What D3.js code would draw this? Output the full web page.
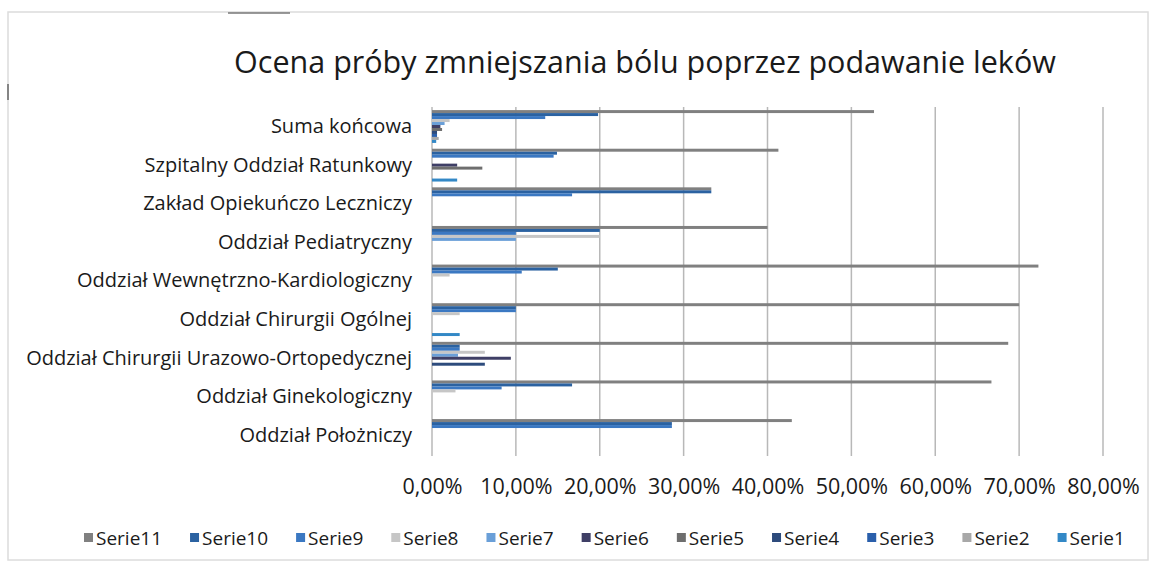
<!DOCTYPE html>
<html>
<head>
    <meta charset="utf-8">
    <style>
        html, body {
            margin: 0;
            background-color: white;
        }
        text {
            font-family: 'Open Sans', 'Noto Sans', sans-serif;
            fill: #1a1a1a;
        }
        .grid line {
            stroke: #b8b8b8;
            stroke-width: 1.5px;
        }
    </style>
</head>
<body>

    <svg id="chart" width="1156" height="566"></svg>

    <script src="https://d3js.org/d3.v7.min.js"></script>

    <script>
        // categories, top to bottom as drawn
        var categories = [
            "Suma końcowa",
            "Szpitalny Oddział Ratunkowy",
            "Zakład Opiekuńczo Leczniczy",
            "Oddział Pediatryczny",
            "Oddział Wewnętrzno-Kardiologiczny",
            "Oddział Chirurgii Ogólnej",
            "Oddział Chirurgii Urazowo-Ortopedycznej",
            "Oddział Ginekologiczny",
            "Oddział Położniczy"
        ];

        var seriesNames = ["Serie11", "Serie10", "Serie9", "Serie8", "Serie7", "Serie6",
                           "Serie5", "Serie4", "Serie3", "Serie2", "Serie1"];

        var serie11 = [0.527, 0.413, 0.333, 0.400, 0.723, 0.700, 0.687, 0.667, 0.429];
        var serie10 = [0.198, 0.149, 0.333, 0.200, 0.150, 0.100, 0.033, 0.167, 0.286];
        var serie9  = [0.135, 0.145, 0.167, 0.100, 0.107, 0.100, 0.033, 0.083, 0.286];
        var serie8  = [0.021, 0, 0, 0.200, 0.021, 0.033, 0.063, 0.028, 0];
        var serie7  = [0.015, 0, 0, 0.100, 0, 0, 0.031, 0, 0];
        var serie6  = [0.010, 0.030, 0, 0, 0, 0, 0.094, 0, 0];
        var serie5  = [0.012, 0.060, 0, 0, 0, 0, 0, 0, 0];
        var serie4  = [0.006, 0, 0, 0, 0, 0, 0.063, 0, 0];
        var serie3  = [0.006, 0, 0, 0, 0, 0, 0, 0, 0];
        var serie2  = [0.008, 0, 0, 0, 0, 0, 0, 0, 0];
        var serie1  = [0.005, 0.030, 0, 0, 0, 0.033, 0, 0, 0];

        var xTicks = [0, 0.1, 0.2, 0.3, 0.4, 0.5, 0.6, 0.7, 0.8];

        var seriesValues = [serie11, serie10, serie9, serie8, serie7, serie6,
                            serie5, serie4, serie3, serie2, serie1];

        var colors = ["#808080", "#2b62a1", "#3b78c2", "#c6c6c6", "#6a9fd8", "#3f3f66",
                      "#6e6e6e", "#2d4b7c", "#2a5fab", "#a8a8a8", "#3388c6"];

        var svg = d3.select("svg"),
            width = +svg.attr("width"),
            height = +svg.attr("height");

        var plLocale = d3.formatLocale({decimal: ",", thousands: " ", grouping: [3], currency: ["", " zł"]});
        var pct = plLocale.format(".2%");

        // frame of the scanned chart
        svg.append("rect")
            .attr("x", 8).attr("y", 12)
            .attr("width", 1140).attr("height", 548)
            .attr("fill", "none")
            .attr("stroke", "#dcdcdc")
            .attr("stroke-width", 1.5);
        svg.append("line")
            .attr("x1", 228).attr("x2", 290).attr("y1", 13).attr("y2", 13)
            .attr("stroke", "#777").attr("stroke-width", 1.5);
        svg.append("line")
            .attr("x1", 8).attr("x2", 8).attr("y1", 84).attr("y2", 100)
            .attr("stroke", "#666").attr("stroke-width", 1.5);

        var x = d3.scaleLinear()
            .domain([0, 0.8])
            .range([432, 1103]);

        var y0 = d3.scaleBand()
            .domain(categories)
            .range([107, 455])
            .paddingInner(0.15)
            .paddingOuter(0.08);

        var y1 = d3.scaleBand()
            .domain(seriesNames)
            .range([0, y0.bandwidth()]);

        var color = d3.scaleOrdinal()
            .domain(seriesNames)
            .range(colors);

        // title
        svg.append("text")
            .attr("x", 645)
            .attr("y", 73)
            .attr("text-anchor", "middle")
            .style("font-size", "30.5px")
            .text("Ocena próby zmniejszania bólu poprzez podawanie leków");

        // gridlines
        svg.append("g")
            .attr("class", "grid")
            .selectAll("line")
            .data(xTicks)
            .enter().append("line")
            .attr("x1", function(d) { return x(d); })
            .attr("x2", function(d) { return x(d); })
            .attr("y1", 107)
            .attr("y2", 456);

        // bars
        var rows = [];
        seriesNames.forEach(function(s, i) {
            categories.forEach(function(c, j) {
                rows.push({serie: s, cat: c, value: seriesValues[i][j]});
            });
        });

        svg.append("g")
            .attr("class", "bars")
            .selectAll("rect")
            .data(rows.filter(function(d) { return d.value > 0; }))
            .enter().append("rect")
            .attr("x", x(0))
            .attr("y", function(d) { return y0(d.cat) + y1(d.serie); })
            .attr("width", function(d) { return x(d.value) - x(0); })
            .attr("height", y1.bandwidth())
            .attr("fill", function(d) { return color(d.serie); });

        // category axis
        var yAxis = svg.append("g")
            .attr("transform", "translate(" + x(0) + ",0)")
            .call(d3.axisLeft(y0).tickSize(0).tickPadding(20));
        yAxis.select(".domain").remove();
        yAxis.selectAll("text")
            .style("font-size", "20px")
            .attr("fill", "#1a1a1a");

        // value axis
        var xAxis = svg.append("g")
            .attr("transform", "translate(0,467)")
            .call(d3.axisBottom(x).tickValues(xTicks).tickFormat(pct).tickSize(0).tickPadding(12));
        xAxis.select(".domain").remove();
        xAxis.selectAll("text")
            .style("font-size", "21.5px")
            .attr("fill", "#1a1a1a");

        // legend
        var legend = svg.append("g").attr("class", "legend");
        var lx = 84;
        seriesNames.forEach(function(s) {
            var item = legend.append("g").attr("transform", "translate(" + lx + ",538)");
            item.append("rect")
                .attr("x", 0).attr("y", -5)
                .attr("width", 9).attr("height", 9)
                .attr("fill", color(s));
            var t = item.append("text")
                .attr("x", 12)
                .attr("y", 7)
                .style("font-size", "19px")
                .text(s);
            lx += 12 + t.node().getComputedTextLength() + 28;
        });
    </script>
</body>
</html>
